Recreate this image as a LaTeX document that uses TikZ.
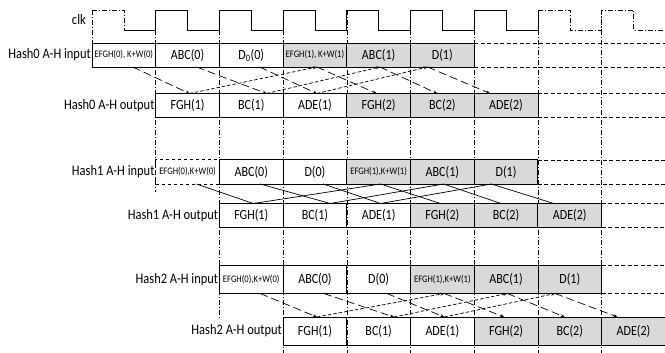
\documentclass[tikz,border=0pt]{standalone}
\usepackage{fontspec}
\setmainfont{Carlito}[FakeStretch=0.86]
\usepackage{tikz}
\usetikzlibrary{arrows.meta,positioning,calc}
\definecolor{cellgray}{HTML}{D9D9D9}

\begin{document}
\begin{tikzpicture}[x=1pt,y=-1pt,>={Stealth[length=4pt,width=3pt]},
  cell/.style={draw,outer sep=0pt,inner sep=0pt,minimum width=63.7pt,minimum height=24pt,font=\fontsize{14}{16}\selectfont,line width=0.7pt},
  gcell/.style={cell,fill=cellgray},
  tall/.style={minimum height=28pt},
  thickrow/.style={line width=1pt},
  small/.style={font=\fontsize{10}{12}\selectfont},
  rowlabel/.style={inner sep=1pt,font=\fontsize{14.5}{16}\selectfont},
  colline/.style={line width=0.5pt,dash pattern=on 5pt off 2pt on 1pt off 2pt},
  contline/.style={line width=0.7pt,dash pattern=on 4pt off 2.5pt},
  clkline/.style={line width=0.8pt},
  clkdash/.style={line width=0.8pt,dash pattern=on 5pt off 2pt on 1pt off 2pt},
  fall/.style={->,line width=0.7pt,dash pattern=on 8pt off 4pt},
  rise/.style={->,line width=0.7pt,dash pattern=on 3.5pt off 2pt},
  cross/.style={line width=0.7pt}]
\useasboundingbox (0,0) rectangle (665,353);
\coordinate (edge) at (665,0);

% column lines
\draw[colline] (92,10) -- (92,43);
\draw[colline] (155.7,10) -- (155.7,192);
\draw[colline] (219.4,10) -- (219.4,318);
\draw[colline] (283.1,10) -- (283.1,353);
\draw[colline] (346.8,10) -- (346.8,353);
\draw[colline] (410.5,10) -- (410.5,353);
\draw[colline] (474.2,10) -- (474.2,353);
\draw[colline] (537.9,10) -- (537.9,353);
\draw[colline] (601.6,10) -- (601.6,353);

% clock
\node[rowlabel,anchor=east] (clk) at (87,20) {clk};
\draw[clkdash] (92,10) -- (124,10) -- (124,30);
\draw[clkline] (124,30) -- (155.7,30)
  \foreach \k in {1,...,6} {-- ({92+63.7*\k},10) -- ({124+63.7*\k},10) -- ({124+63.7*\k},30) -- ({92+63.7*(\k+1)},30)};
\draw[clkdash] (537.9,30) -- (537.9,10) -- (569.9,10) -- (569.9,30) -- (601.6,30)
  -- (601.6,10) -- (633.6,10) -- (633.6,30) -- (665,30);

% Hash0
\node[cell,small,anchor=west] (h0in0) at (92,55) {EFGH(0), K+W(0)};
\node[cell,right=0pt of h0in0] (h0in1) {ABC(0)};
\node[cell,right=0pt of h0in1] (h0in2) {D\textsubscript{0}(0)};
\node[gcell,small,right=0pt of h0in2] (h0in3) {EFGH(1), K+W(1)};
\node[gcell,right=0pt of h0in3] (h0in4) {ABC(1)};
\node[gcell,right=0pt of h0in4] (h0in5) {D(1)};
\node[rowlabel,left=0pt of h0in0] (h0inlab) {Hash0 A-H input};
\draw[contline] (h0in5.north east) -- (h0in5.north east -| edge);
\draw[contline] (h0in5.south east) -- (h0in5.south east -| edge);

\node[cell,anchor=west] (h0out1) at (155.7,105.5) {FGH(1)};
\node[cell,right=0pt of h0out1] (h0out2) {BC(1)};
\node[cell,right=0pt of h0out2] (h0out3) {ADE(1)};
\node[gcell,right=0pt of h0out3] (h0out4) {FGH(2)};
\node[gcell,right=0pt of h0out4] (h0out5) {BC(2)};
\node[gcell,right=0pt of h0out5] (h0out6) {ADE(2)};
\node[rowlabel,left=0pt of h0out1] (h0outlab) {Hash0 A-H output};
\draw[contline] (h0out6.north east) -- (h0out6.north east -| edge);
\draw[contline] (h0out6.south east) -- (h0out6.south east -| edge);

\draw[fall] ($(h0in0.south west)!.64!(h0in0.south east)$) -- ($(h0out1.north west)!.53!(h0out1.north east)$);
\draw[fall] ($(h0in1.south west)!.64!(h0in1.south east)$) -- ($(h0out2.north west)!.74!(h0out2.north east)$);
\draw[fall] ($(h0in2.south west)!.63!(h0in2.south east)$) -- ($(h0out3.north west)!.53!(h0out3.north east)$);
\draw[fall] ($(h0in3.south west)!.53!(h0in3.south east)$) -- ($(h0out4.north west)!.47!(h0out4.north east)$);
\draw[fall] ($(h0in4.south west)!.52!(h0in4.south east)$) -- ($(h0out5.north west)!.42!(h0out5.north east)$);
\draw[fall] ($(h0in5.south west)!.27!(h0in5.south east)$) -- ($(h0out6.north west)!.25!(h0out6.north east)$);
\draw[rise] ($(h0out1.north west)!.53!(h0out1.north east)$) -- ($(h0in3.south west)!.53!(h0in3.south east)$);
\draw[rise] ($(h0out2.north west)!.74!(h0out2.north east)$) -- ($(h0in4.south west)!.52!(h0in4.south east)$);
\draw[rise] ($(h0out3.north west)!.53!(h0out3.north east)$) -- ($(h0in5.south west)!.27!(h0in5.south east)$);

% Hash1
\node[cell,thickrow,small,dashed,anchor=west] (h1in1) at (155.7,172) {EFGH(0),K+W(0)};
\node[cell,thickrow,right=0pt of h1in1] (h1in2) {ABC(0)};
\node[cell,thickrow,right=0pt of h1in2] (h1in3) {D(0)};
\node[gcell,thickrow,small,right=0pt of h1in3] (h1in4) {EFGH(1),K+W(1)};
\node[gcell,thickrow,right=0pt of h1in4] (h1in5) {ABC(1)};
\node[gcell,thickrow,right=0pt of h1in5] (h1in6) {D(1)};
\node[rowlabel,left=0pt of h1in1] (h1inlab) {Hash1 A-H input};
\draw[contline] (h1in6.north east) -- (h1in6.north east -| edge);
\draw[contline] (h1in6.south east) -- (h1in6.south east -| edge);

\node[cell,thickrow,anchor=west] (h1out2) at (219.4,215.5) {FGH(1)};
\node[cell,thickrow,right=0pt of h1out2] (h1out3) {BC(1)};
\node[cell,thickrow,right=0pt of h1out3] (h1out4) {ADE(1)};
\node[gcell,thickrow,right=0pt of h1out4] (h1out5) {FGH(2)};
\node[gcell,thickrow,right=0pt of h1out5] (h1out6) {BC(2)};
\node[gcell,thickrow,right=0pt of h1out6] (h1out7) {ADE(2)};
\node[rowlabel,left=0pt of h1out2] (h1outlab) {Hash1 A-H output};
\draw[contline] (h1out7.north east) -- (h1out7.north east -| edge);
\draw[contline] (h1out7.south east) -- (h1out7.south east -| edge);

\draw[cross] ($(h1in1.south west)!.64!(h1in1.south east)$) -- ($(h1out2.north west)!.53!(h1out2.north east)$);
\draw[cross] ($(h1in2.south west)!.64!(h1in2.south east)$) -- ($(h1out3.north west)!.74!(h1out3.north east)$);
\draw[cross] ($(h1in3.south west)!.63!(h1in3.south east)$) -- ($(h1out4.north west)!.53!(h1out4.north east)$);
\draw[cross] ($(h1in4.south west)!.53!(h1in4.south east)$) -- ($(h1out5.north west)!.47!(h1out5.north east)$);
\draw[cross] ($(h1in5.south west)!.52!(h1in5.south east)$) -- ($(h1out6.north west)!.42!(h1out6.north east)$);
\draw[cross] ($(h1in6.south west)!.27!(h1in6.south east)$) -- ($(h1out7.north west)!.25!(h1out7.north east)$);
\draw[cross] ($(h1out2.north west)!.53!(h1out2.north east)$) -- ($(h1in4.south west)!.53!(h1in4.south east)$);
\draw[cross] ($(h1out3.north west)!.74!(h1out3.north east)$) -- ($(h1in5.south west)!.52!(h1in5.south east)$);
\draw[cross] ($(h1out4.north west)!.53!(h1out4.north east)$) -- ($(h1in6.south west)!.27!(h1in6.south east)$);

% Hash2
\node[cell,tall,small,anchor=west] (h2in2) at (219.4,279.5) {EFGH(0),K+W(0)};
\node[cell,tall,right=0pt of h2in2] (h2in3) {ABC(0)};
\node[cell,tall,right=0pt of h2in3] (h2in4) {D(0)};
\node[gcell,tall,small,right=0pt of h2in4] (h2in5) {EFGH(1),K+W(1)};
\node[gcell,tall,right=0pt of h2in5] (h2in6) {ABC(1)};
\node[gcell,tall,right=0pt of h2in6] (h2in7) {D(1)};
\node[rowlabel,left=0pt of h2in2] (h2inlab) {Hash2 A-H input};
\draw[contline] (h2in7.north east) -- (h2in7.north east -| edge);
\draw[contline] (h2in7.south east) -- (h2in7.south east -| edge);

\node[cell,tall,anchor=west] (h2out3) at (283.1,331) {FGH(1)};
\node[cell,tall,right=0pt of h2out3] (h2out4) {BC(1)};
\node[cell,tall,right=0pt of h2out4] (h2out5) {ADE(1)};
\node[gcell,tall,right=0pt of h2out5] (h2out6) {FGH(2)};
\node[gcell,tall,right=0pt of h2out6] (h2out7) {BC(2)};
\node[gcell,tall,right=0pt of h2out7] (h2out8) {ADE(2)};
\node[rowlabel,left=0pt of h2out3] (h2outlab) {Hash2 A-H output};

\draw[fall] ($(h2in2.south west)!.64!(h2in2.south east)$) -- ($(h2out3.north west)!.53!(h2out3.north east)$);
\draw[fall] ($(h2in3.south west)!.64!(h2in3.south east)$) -- ($(h2out4.north west)!.74!(h2out4.north east)$);
\draw[fall] ($(h2in4.south west)!.63!(h2in4.south east)$) -- ($(h2out5.north west)!.53!(h2out5.north east)$);
\draw[fall] ($(h2in5.south west)!.53!(h2in5.south east)$) -- ($(h2out6.north west)!.47!(h2out6.north east)$);
\draw[fall] ($(h2in6.south west)!.52!(h2in6.south east)$) -- ($(h2out7.north west)!.42!(h2out7.north east)$);
\draw[fall] ($(h2in7.south west)!.27!(h2in7.south east)$) -- ($(h2out8.north west)!.25!(h2out8.north east)$);
\draw[rise] ($(h2out3.north west)!.53!(h2out3.north east)$) -- ($(h2in5.south west)!.53!(h2in5.south east)$);
\draw[rise] ($(h2out4.north west)!.74!(h2out4.north east)$) -- ($(h2in6.south west)!.52!(h2in6.south east)$);
\draw[rise] ($(h2out5.north west)!.53!(h2out5.north east)$) -- ($(h2in7.south west)!.27!(h2in7.south east)$);
\end{tikzpicture}
\end{document}
